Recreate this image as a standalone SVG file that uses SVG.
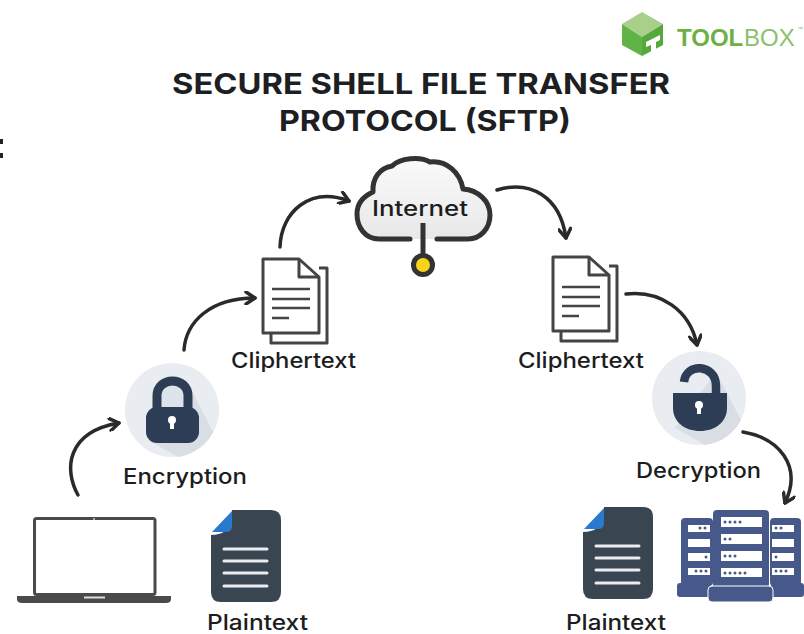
<svg xmlns="http://www.w3.org/2000/svg" xmlns:xlink="http://www.w3.org/1999/xlink" width="804" height="634" viewBox="0 0 804 634">
<style>
.lb{font-family:Inter,"Open Sans","Liberation Sans",sans-serif;font-weight:500;font-size:21px;fill:#1b1d20}
.tt{font-family:Inter,"Liberation Sans",sans-serif;font-weight:700;font-size:29px;fill:#1d1f22}
.ar{fill:none;stroke:#2a2a2a;stroke-width:3.500;stroke-linecap:round;marker-end:url(#h)}
.dl{fill:none;stroke:#444;stroke-width:3;stroke-linejoin:round}
.dt{stroke:#444;stroke-width:2.500}
.pl{stroke:#fff;stroke-width:3;stroke-linecap:round;opacity:.9}
.sv{fill:#46598a}.sw{fill:#fff}.sd{fill:#46598a}
</style>
<defs>
<marker id="h" viewBox="0 0 14 14" refX="12" refY="7" markerWidth="14" markerHeight="14" markerUnits="userSpaceOnUse" orient="auto">
<path d="M3 1L12 7L3 13" fill="none" stroke="#2a2a2a" stroke-width="3.500" stroke-linecap="round" stroke-linejoin="round"/>
</marker>
<linearGradient id="cg" x1="0" y1="0" x2="0" y2="1"><stop offset="0" stop-color="#fafafa"/><stop offset="1" stop-color="#e8e8ea"/></linearGradient>
<g id="cdoc">
<path class="dl" d="M271 333V343H327V268H319" fill="#fff"/>
<path class="dl" d="M263 259H299L319 277V333H263Z" fill="#fff"/>
<path class="dl" d="M299 259V277H319"/>
<path class="dt" d="M272 289H310M272 299H310M272 308H310M272 318H289"/>
</g>
<g id="pdoc">
<path d="M232 510H271Q281 510 281 520V592Q281 602 271 602H221Q211 602 211 592V535Q228 535 232 520Z" fill="#3a4552"/>
<path d="M212 532L232 511V526Q232 532 226 532Z" fill="#2a79cf"/>
<path class="pl" d="M224 549H267M224 561H267M224 573H267M224 586H267"/>
</g>
</defs>
<rect width="804" height="634" fill="#fff"/>

<g id="stray-marks"><rect x="0" y="139" width="3" height="5" fill="#222"/><rect x="0" y="153" width="3" height="5" fill="#222"/></g>

<g id="logo">
<path d="M642 12L663 24L642 37L622 24Z" fill="#a9cf8a"/>
<path d="M622 24L642 37V56L622 45Z" fill="#62b347"/>
<path d="M663 24V45L642 56V37Z" fill="#55a83c"/>
<path d="M646 42L660 35V40L656 42V50L651 53V45L646 47Z" fill="#fff"/>
<text x="677" y="46" font-family="'Liberation Sans',Arial,sans-serif" font-size="24" font-weight="700" fill="#6eb043">TOOL</text>
<text x="744" y="46" font-family="'Liberation Sans',Arial,sans-serif" font-size="24" fill="#8cc06c">BOX</text>
<text x="797" y="31" font-family="'Liberation Sans',Arial,sans-serif" font-size="6" fill="#8cc06c">™</text>
</g>

<g id="title">
<text class="tt" x="172" y="94" textLength="498" lengthAdjust="spacingAndGlyphs">SECURE SHELL FILE TRANSFER</text>
<text class="tt" x="279" y="131" textLength="292" lengthAdjust="spacingAndGlyphs">PROTOCOL (SFTP)</text>
</g>

<g id="connectors">
<path class="ar" d="M78 495C64 470 66 432 119 423"/>
<path class="ar" d="M184 350C186 322 210 298 255 298"/>
<path class="ar" d="M280 247C281 212 310 186 349 201"/>
<path class="ar" d="M497 190C530 180 560 196 566 238"/>
<path class="ar" d="M626 294C660 290 690 310 697 345"/>
<path class="ar" d="M743 432C778 438 803 465 785 503"/>
</g>

<g id="internet">
<path d="M410 239H379C365 239 357 227 357 214C357 203 364 196 373 192C372 178 380 168 392 166C400 158 420 156 430 162C446 160 460 172 463 189C478 190 490 201 490 215C490 229 480 239 468 239H437" fill="url(#cg)" stroke="#333" stroke-width="5" stroke-linecap="round" stroke-linejoin="round"/>
<path d="M423 223V254" stroke="#333" stroke-width="5" fill="none"/>
<circle cx="423" cy="265" r="9.500" fill="#f8d31c" stroke="#333" stroke-width="5"/>
<text class="lb" x="372" y="216" textLength="96" lengthAdjust="spacingAndGlyphs">Internet</text>
</g>

<g id="cipher-left"><use xlink:href="#cdoc"/>
<text class="lb" x="231" y="368" textLength="125" lengthAdjust="spacingAndGlyphs">Cliphertext</text></g>
<g id="cipher-right"><use xlink:href="#cdoc" x="290" y="-2"/>
<text class="lb" x="518" y="368" textLength="126" lengthAdjust="spacingAndGlyphs">Cliphertext</text></g>

<g id="encryption">
<circle cx="172" cy="410" r="47" fill="#e9edf2"/>
<path d="M189 385L213 432A47 47 0 0 1 178 457L148 440Z" fill="#d9dee5"/>
<path d="M157 410V396C157 376 188 376 188 396V410" fill="#dde3ea" stroke="#2c3d55" stroke-width="9"/>
<rect x="146" y="407" width="53" height="36" rx="11" fill="#2c3d55"/>
<circle cx="172" cy="420" r="4" fill="#fff"/><rect x="170" y="421" width="4" height="8" fill="#fff"/>
<text class="lb" x="123" y="484" textLength="124" lengthAdjust="spacingAndGlyphs">Encryption</text>
</g>

<g id="decryption">
<circle cx="699" cy="398" r="47" fill="#e9edf2"/>
<path d="M716 372L741 420A47 47 0 0 1 705 445L675 428Z" fill="#d9dee5"/>
<path d="M684 382C686 362 716 364 716 386V395" fill="none" stroke="#2c3d55" stroke-width="8.500"/>
<path d="M673 393H727V408C727 422 715 431 700 431C685 431 673 422 673 408Z" fill="#2c3d55"/>
<circle cx="699" cy="405" r="4" fill="#fff"/><rect x="697" y="406" width="4" height="8" fill="#fff"/>
<text class="lb" x="636" y="478" textLength="125" lengthAdjust="spacingAndGlyphs">Decryption</text>
</g>

<g id="laptop">
<rect x="34.500" y="518.500" width="120.500" height="76" rx="2" fill="#fff" stroke="#4a4a4c" stroke-width="3"/>
<path d="M17 596H171V599Q171 603 166 603H22Q17 603 17 599Z" fill="#4a4a4c"/>
<rect x="84" y="596.500" width="21" height="2" fill="#ddd"/>
<circle cx="94" cy="519" r="1" fill="#ccc"/>
</g>

<g id="plain-left"><use xlink:href="#pdoc"/>
<text class="lb" x="207" y="630" textLength="101" lengthAdjust="spacingAndGlyphs">Plaintext</text></g>
<g id="plain-right"><use xlink:href="#pdoc" x="372" y="-3"/>
<text class="lb" x="566" y="630" textLength="100" lengthAdjust="spacingAndGlyphs">Plaintext</text></g>

<g id="server">
<rect class="sv" x="681" y="518" width="32" height="68" rx="4"/>
<rect class="sv" x="770" y="518" width="31" height="68" rx="4"/>
<rect class="sv" x="677" y="583" width="33" height="14" rx="3"/>
<rect class="sv" x="771" y="583" width="33" height="14" rx="3"/>
<rect class="sv" x="713" y="510" width="56" height="78" rx="4"/>
<rect class="sv" x="708" y="586" width="65" height="16" rx="4" stroke="#fff" stroke-width="1"/>
<g class="sw">
<rect x="721" y="517" width="41" height="10"/><rect x="721" y="534" width="41" height="10"/><rect x="721" y="551" width="41" height="10"/><rect x="721" y="568" width="41" height="9"/>
<rect x="688" y="525" width="22" height="7"/><rect x="688" y="539" width="22" height="8"/><rect x="688" y="553" width="22" height="8"/><rect x="688" y="568" width="22" height="7"/>
<rect x="772" y="525" width="22" height="7"/><rect x="772" y="539" width="22" height="8"/><rect x="772" y="553" width="22" height="8"/><rect x="772" y="568" width="22" height="7"/>
</g>
<g class="sd">
<circle cx="725" cy="522" r="1.500"/><circle cx="730" cy="522" r="1.500"/><circle cx="735" cy="522" r="1.500"/><circle cx="740" cy="522" r="1.500"/>
<circle cx="725" cy="539" r="1.500"/><circle cx="730" cy="539" r="1.500"/>
<circle cx="725" cy="556" r="1.500"/><circle cx="730" cy="556" r="1.500"/><circle cx="735" cy="556" r="1.500"/>
<circle cx="725" cy="573" r="1.500"/><circle cx="730" cy="573" r="1.500"/><circle cx="735" cy="573" r="1.500"/><circle cx="740" cy="573" r="1.500"/><circle cx="745" cy="573" r="1.500"/>
<circle cx="700" cy="528" r="1.500"/><circle cx="705" cy="528" r="1.500"/><circle cx="706" cy="557" r="1.500"/>
<circle cx="696" cy="571" r="1.500"/><circle cx="701" cy="571" r="1.500"/><circle cx="706" cy="571" r="1.500"/>
<circle cx="776" cy="528" r="1.500"/><circle cx="781" cy="528" r="1.500"/><circle cx="776" cy="557" r="1.500"/>
<circle cx="776" cy="571" r="1.500"/><circle cx="781" cy="571" r="1.500"/><circle cx="786" cy="571" r="1.500"/>
</g>
</g>
</svg>
